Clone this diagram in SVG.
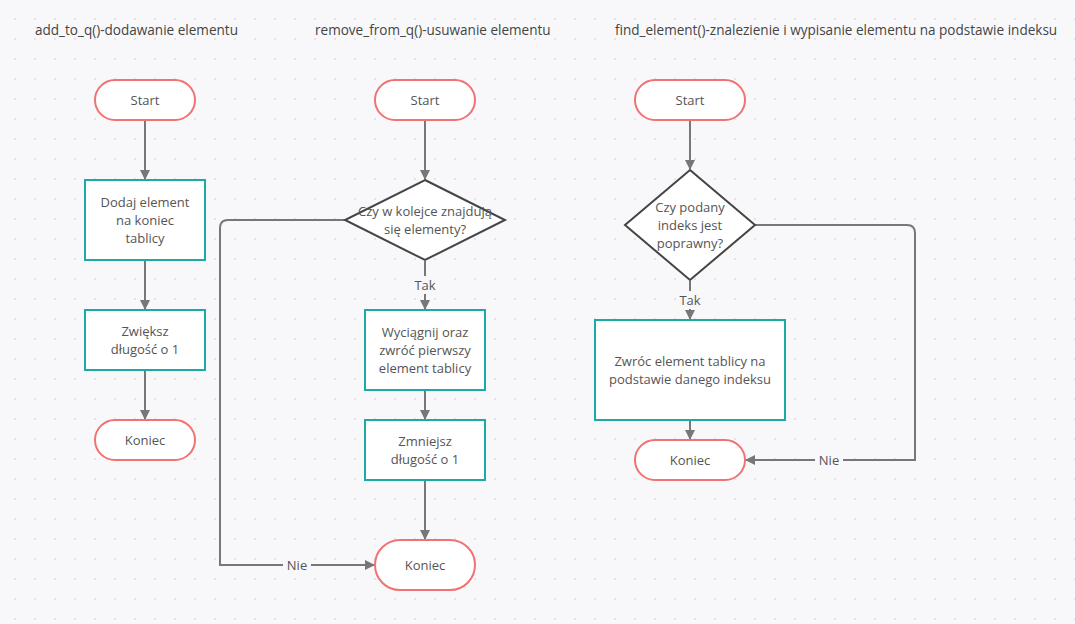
<svg xmlns="http://www.w3.org/2000/svg" width="1075" height="624" viewBox="0 0 1075 624">
  <style>
    text { font-family: "Open Sans", "Noto Sans", "Liberation Sans", sans-serif; font-size: 13px; fill: #555; }
    .title { fill: #444; font-size: 13.55px; }
    .mid { text-anchor: middle; }
    .term { fill: #fff; stroke: #f07272; stroke-width: 2; }
    .proc { fill: #fff; stroke: #1aaba6; stroke-width: 2; }
    .dec { fill: #fff; stroke: #444; stroke-width: 2; }
    .conn { fill: none; stroke: #777; stroke-width: 2; }
    .lbl { fill: #f8f8fb; }
  </style>
  <defs>
    <pattern id="dots" width="20" height="20" patternUnits="userSpaceOnUse">
      <circle cx="15" cy="19" r="1" fill="#dcdce2"/>
    </pattern>
    <marker id="arrow" viewBox="0 0 10 10" refX="9" refY="5" markerWidth="10" markerHeight="10" markerUnits="userSpaceOnUse" orient="auto">
      <path d="M0,0 L10,5 L0,10 Z" fill="#777"/>
    </marker>
  </defs>

  <rect width="1075" height="624" fill="#f8f8fb"/>
  <rect width="1075" height="624" fill="url(#dots)"/>

  <!-- section headings -->
  <text class="title" x="35" y="35">add_to_q()-dodawanie elementu</text>
  <text class="title" x="315" y="35">remove_from_q()-usuwanie elementu</text>
  <text class="title" x="615" y="35">find_element()-znalezienie i wypisanie elementu na podstawie indeksu</text>

  <g id="connectors">
    <!-- add_to_q -->
    <line class="conn" x1="145" y1="121" x2="145" y2="179" marker-end="url(#arrow)"/>
    <line class="conn" x1="145" y1="261" x2="145" y2="309" marker-end="url(#arrow)"/>
    <line class="conn" x1="145" y1="371" x2="145" y2="419" marker-end="url(#arrow)"/>
    <!-- remove_from_q -->
    <line class="conn" x1="425" y1="121" x2="425" y2="179" marker-end="url(#arrow)"/>
    <line class="conn" x1="425" y1="261" x2="425" y2="309" marker-end="url(#arrow)"/>
    <line class="conn" x1="425" y1="391" x2="425" y2="419" marker-end="url(#arrow)"/>
    <line class="conn" x1="425" y1="481" x2="425" y2="539" marker-end="url(#arrow)"/>
    <path class="conn" d="M345,220 H228 Q220,220 220,228 V565 H374" marker-end="url(#arrow)"/>
    <!-- find_element -->
    <line class="conn" x1="690" y1="121" x2="690" y2="169" marker-end="url(#arrow)"/>
    <line class="conn" x1="690" y1="281" x2="690" y2="319" marker-end="url(#arrow)"/>
    <line class="conn" x1="690" y1="421" x2="690" y2="439" marker-end="url(#arrow)"/>
    <path class="conn" d="M755,225 H907 Q915,225 915,233 V460 H746" marker-end="url(#arrow)"/>

    <!-- connector labels -->
    <rect class="lbl" x="411" y="276" width="28" height="18"/>
    <text class="mid" x="425" y="290">Tak</text>
    <rect class="lbl" x="283" y="556" width="28" height="18"/>
    <text class="mid" x="297" y="570">Nie</text>
    <rect class="lbl" x="676" y="291" width="28" height="18"/>
    <text class="mid" x="690" y="305">Tak</text>
    <rect class="lbl" x="815" y="451" width="28" height="18"/>
    <text class="mid" x="829" y="465">Nie</text>
  </g>

  <!-- add_to_q nodes -->
  <g id="a-start">
    <rect class="term" x="95" y="80" width="100" height="40" rx="20"/>
    <text class="mid" x="145" y="105">Start</text>
  </g>
  <g id="a-add">
    <rect class="proc" x="85" y="180" width="120" height="80"/>
    <text class="mid" x="145" y="207">Dodaj element</text>
    <text class="mid" x="145" y="225">na koniec</text>
    <text class="mid" x="145" y="243">tablicy</text>
  </g>
  <g id="a-inc">
    <rect class="proc" x="85" y="310" width="120" height="60"/>
    <text class="mid" x="145" y="336">Zwiększ</text>
    <text class="mid" x="145" y="354">długość o 1</text>
  </g>
  <g id="a-end">
    <rect class="term" x="95" y="420" width="100" height="40" rx="20"/>
    <text class="mid" x="145" y="445">Koniec</text>
  </g>

  <!-- remove_from_q nodes -->
  <g id="r-start">
    <rect class="term" x="375" y="80" width="100" height="40" rx="20"/>
    <text class="mid" x="425" y="105">Start</text>
  </g>
  <g id="r-check">
    <polygon class="dec" points="425,180 505,220 425,260 345,220"/>
    <text class="mid" x="425" y="216">Czy w kolejce znajdują</text>
    <text class="mid" x="425" y="234">się elementy?</text>
  </g>
  <g id="r-take">
    <rect class="proc" x="365" y="310" width="120" height="80"/>
    <text class="mid" x="425" y="337">Wyciągnij oraz</text>
    <text class="mid" x="425" y="355">zwróć pierwszy</text>
    <text class="mid" x="425" y="373">element tablicy</text>
  </g>
  <g id="r-dec">
    <rect class="proc" x="365" y="420" width="120" height="60"/>
    <text class="mid" x="425" y="446">Zmniejsz</text>
    <text class="mid" x="425" y="464">długość o 1</text>
  </g>
  <g id="r-end">
    <rect class="term" x="375" y="540" width="100" height="50" rx="25"/>
    <text class="mid" x="425" y="570">Koniec</text>
  </g>

  <!-- find_element nodes -->
  <g id="f-start">
    <rect class="term" x="635" y="80" width="110" height="40" rx="20"/>
    <text class="mid" x="690" y="105">Start</text>
  </g>
  <g id="f-check">
    <polygon class="dec" points="690,170 755,225 690,280 625,225"/>
    <text class="mid" x="690" y="212">Czy podany</text>
    <text class="mid" x="690" y="230">indeks jest</text>
    <text class="mid" x="690" y="248">poprawny?</text>
  </g>
  <g id="f-return">
    <rect class="proc" x="595" y="320" width="190" height="100"/>
    <text class="mid" x="690" y="366">Zwróc element tablicy na</text>
    <text class="mid" x="690" y="384">podstawie danego indeksu</text>
  </g>
  <g id="f-end">
    <rect class="term" x="635" y="440" width="110" height="40" rx="20"/>
    <text class="mid" x="690" y="465">Koniec</text>
  </g>
</svg>
